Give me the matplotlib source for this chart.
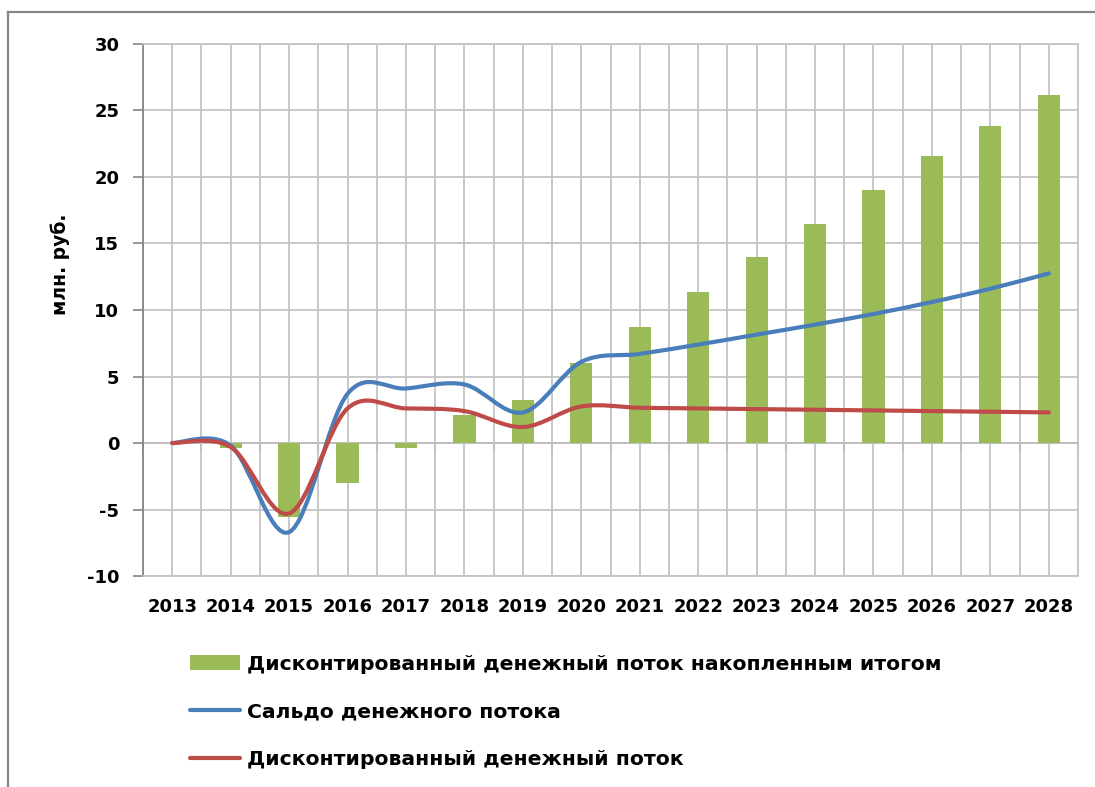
import numpy as np
import matplotlib.pyplot as plt
from matplotlib.path import Path
from matplotlib.patches import PathPatch, Patch
from matplotlib.lines import Line2D

# data (млн. руб.)
years = [str(y) for y in range(2013, 2029)]
cumulative = [0, -0.35, -5.6, -3.0, -0.4, 2.1, 3.2, 6.0, 8.7, 11.35, 14.0, 16.5, 19.0, 21.55, 23.85, 26.2]
balance = [0, -0.2, -6.7, 3.7, 4.1, 4.4, 2.3, 6.1, 6.7, 7.4, 8.15, 8.9, 9.7, 10.6, 11.6, 12.75]
discounted = [0, -0.3, -5.3, 2.6, 2.6, 2.4, 1.2, 2.75, 2.65, 2.6, 2.55, 2.5, 2.45, 2.4, 2.35, 2.3]

labels = ["Дисконтированный денежный поток накопленным итогом",
          "Сальдо денежного потока",
          "Дисконтированный денежный поток"]

green = '#9BBB59'
blue = '#4A7EBB'
red = '#BE4B48'
grid_c = '#C4C4C4'
axis_c = '#868686'

plt.rcParams.update({'font.family': 'DejaVu Sans', 'font.weight': 'bold', 'font.size': 13,
                     'axes.unicode_minus': False})


def smooth_path(x, y):
    # excel-like smoothed line: bezier segments through the data points
    pts = np.column_stack([x, y]).astype(float)
    ext = np.vstack([pts[0], pts, pts[-1]])
    verts = [pts[0]]
    codes = [Path.MOVETO]
    for i in range(len(pts) - 1):
        p0, p1, p2, p3 = ext[i], ext[i + 1], ext[i + 2], ext[i + 3]
        verts += [p1 + (p2 - p0) / 6, p2 - (p3 - p1) / 6, p2]
        codes += [Path.CURVE4] * 3
    return Path(verts, codes)


fig = plt.figure(figsize=(10.95, 7.87), dpi=100)
ax = fig.add_axes([0.1306, 0.2681, 0.8539, 0.676])

x = np.arange(len(years))
ax.bar(x, cumulative, width=0.38, color=green, zorder=1)
ax.add_patch(PathPatch(smooth_path(x, balance), fill=False, edgecolor=blue, lw=3,
                       capstyle='round', zorder=3))
ax.add_patch(PathPatch(smooth_path(x, discounted), fill=False, edgecolor=red, lw=3,
                       capstyle='round', zorder=3))

ax.set_xlim(-0.5, len(years) - 0.5)
ax.set_ylim(-10, 30)
ax.set_yticks(np.arange(-10, 31, 5))
ax.set_xticks(x)
ax.set_xticklabels(years)
ax.set_xticks(np.arange(-0.5, len(years), 1), minor=True)
ax.tick_params(axis='x', which='both', length=0, pad=16)
ax.tick_params(axis='y', length=7, width=1.2, color=axis_c, pad=10)
ax.grid(which='both', axis='x', color=grid_c, lw=1.3, zorder=0)
ax.grid(which='major', axis='y', color=grid_c, lw=1.3, zorder=0)
ax.set_axisbelow(True)
for s in ['top', 'right', 'bottom']:
    ax.spines[s].set_color(grid_c)
    ax.spines[s].set_linewidth(1.3)
ax.spines['left'].set_color(axis_c)
ax.spines['left'].set_linewidth(1.3)
ax.set_ylabel("млн. руб.", fontweight='bold', fontsize=13.5)
ax.yaxis.set_label_coords(-0.078, 0.586)

# category axis crosses at zero, tick marks between categories
sec = ax.secondary_xaxis(0.25, functions=(lambda v: v, lambda v: v))
sec.set_xticks(np.arange(-0.5, len(years), 1))
sec.tick_params(axis='x', length=6, width=1.2, color=axis_c, labelbottom=False)
sec.spines['bottom'].set_color(axis_c)
sec.spines['bottom'].set_linewidth(1.3)

handles = [Patch(facecolor=green),
           Line2D([], [], color=blue, lw=3, solid_capstyle='round'),
           Line2D([], [], color=red, lw=3, solid_capstyle='round')]
fig.legend(handles, labels, loc='upper left', bbox_to_anchor=(0.1735, 0.1677),
           frameon=False, prop={'weight': 'bold', 'size': 14.7}, handlelength=2.45,
           handleheight=0.75, handletextpad=0.35, labelspacing=1.4,
           borderpad=0, borderaxespad=0)

# outer chart frame
fig.add_artist(Line2D([8 / 1095, 8 / 1095], [0, 1 - 12 / 787], color=axis_c, lw=1.6))
fig.add_artist(Line2D([8 / 1095, 1], [1 - 12 / 787, 1 - 12 / 787], color=axis_c, lw=1.6))

fig.savefig('out.png', dpi=100)
